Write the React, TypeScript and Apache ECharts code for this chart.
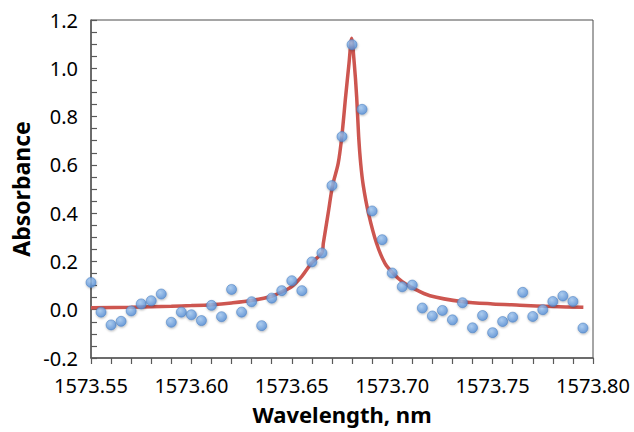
import React, { useEffect, useRef } from "react";
import * as echarts from "echarts";

// Measured points (wavelength, nm / absorbance)
const pointX = [
  1573.55, 1573.555, 1573.56, 1573.565, 1573.57, 1573.575, 1573.58, 1573.585, 1573.59, 1573.595,
  1573.6, 1573.605, 1573.61, 1573.615, 1573.62, 1573.625, 1573.63, 1573.635, 1573.64, 1573.645,
  1573.65, 1573.655, 1573.66, 1573.665, 1573.67, 1573.675, 1573.68, 1573.685, 1573.69, 1573.695,
  1573.7, 1573.705, 1573.71, 1573.715, 1573.72, 1573.725, 1573.73, 1573.735, 1573.74, 1573.745,
  1573.75, 1573.755, 1573.76, 1573.765, 1573.77, 1573.775, 1573.78, 1573.785, 1573.79, 1573.795,
];
const pointY = [
  0.113, -0.01, -0.063, -0.048, -0.005, 0.024, 0.037, 0.065, -0.052, -0.01,
  -0.021, -0.045, 0.018, -0.029, 0.084, -0.01, 0.033, -0.066, 0.048, 0.079,
  0.12, 0.079, 0.198, 0.235, 0.514, 0.717, 1.098, 0.83, 0.409, 0.29,
  0.152, 0.095, 0.102, 0.007, -0.026, -0.003, -0.042, 0.029, -0.075, -0.024,
  -0.095, -0.049, -0.031, 0.072, -0.028, 0.0, 0.034, 0.057, 0.034, -0.076,
];

// Fitted curve
const fitX = [
  1573.55, 1573.57, 1573.59, 1573.6, 1573.61, 1573.62, 1573.63, 1573.64, 1573.645, 1573.65,
  1573.655, 1573.66, 1573.665, 1573.6657, 1573.6681, 1573.6703, 1573.6731, 1573.6749, 1573.6768,
  1573.6785, 1573.6798, 1573.6811, 1573.6823, 1573.6833, 1573.6843, 1573.6856, 1573.6882,
  1573.6922, 1573.6964, 1573.7004, 1573.705, 1573.71, 1573.7188, 1573.7354, 1573.75, 1573.7636,
  1573.78, 1573.7952,
];
const fitY = [
  0.008, 0.01, 0.014, 0.017, 0.021, 0.028, 0.038, 0.056, 0.074, 0.096,
  0.138, 0.195, 0.236, 0.275, 0.399, 0.514, 0.606, 0.717, 0.882,
  1.021, 1.124, 1.021, 0.882, 0.717, 0.606, 0.514, 0.399,
  0.275, 0.192, 0.151, 0.116, 0.091, 0.058, 0.033, 0.024, 0.019,
  0.013, 0.01,
];

const xTicks = { min: 1573.55, max: 1573.8, step: 0.05 };
const yTicks = { min: -0.2, max: 1.2, step: 0.2 };

export default function App() {
  const ref = useRef<HTMLDivElement>(null);
  useEffect(() => {
    if (!ref.current) return;
    const chart = echarts.init(ref.current, undefined, { renderer: "svg" });
    const font = "'Noto Sans', 'Open Sans', sans-serif";
    const axisLineColor = "#595959";
    chart.setOption({
      animation: false,
      backgroundColor: "#ffffff",
      grid: {
        left: 91,
        top: 20,
        right: 41,
        bottom: 74,
        show: true,
        borderColor: "#4d4d4d",
        borderWidth: 1,
        backgroundColor: "transparent",
      },
      xAxis: {
        type: "value",
        min: xTicks.min,
        max: xTicks.max,
        interval: xTicks.step,
        name: "Wavelength, nm",
        nameLocation: "middle",
        nameGap: 44,
        nameTextStyle: { fontFamily: font, fontSize: 22, fontWeight: "bold", color: "#000", lineHeight: 24 },
        axisLine: { show: true, onZero: false, lineStyle: { color: axisLineColor, width: 1.5 } },
        axisTick: { show: true, inside: false, length: 6, lineStyle: { color: axisLineColor, width: 1.2 } },
        minorTick: { show: true, splitNumber: 5, length: 6, lineStyle: { color: axisLineColor, width: 1.2 } },
        splitLine: { show: false },
        axisLabel: {
          margin: 17,
          fontFamily: font,
          fontSize: 20,
          lineHeight: 20,
          color: "#000",
          formatter: (v: number) => v.toFixed(2),
        },
      },
      yAxis: {
        type: "value",
        min: yTicks.min,
        max: yTicks.max,
        interval: yTicks.step,
        name: "Absorbance",
        nameLocation: "middle",
        nameGap: 56,
        nameRotate: 90,
        nameTextStyle: { fontFamily: font, fontSize: 23, fontWeight: "bold", color: "#000" },
        axisLine: { show: true, onZero: false, lineStyle: { color: axisLineColor, width: 1.5 } },
        axisTick: { show: true, inside: true, length: 6, lineStyle: { color: axisLineColor, width: 1.2 } },
        minorTick: { show: true, splitNumber: 4, length: 6, lineStyle: { color: axisLineColor, width: 1.2 } },
        splitLine: { show: false },
        axisLabel: {
          margin: 13,
          fontFamily: font,
          fontSize: 20,
          color: "#000",
          formatter: (v: number) => (Math.abs(v) < 1e-9 ? "0.0" : v.toFixed(1)),
        },
      },
      series: [
        {
          type: "line",
          data: fitX.map((x, i) => [x, fitY[i]]),
          showSymbol: false,
          smooth: 0.3,
          lineStyle: { color: "#cd5650", width: 3.5 },
          z: 2,
        },
        {
          type: "scatter",
          data: pointX.map((x, i) => [x, pointY[i]]),
          symbol: "circle",
          symbolSize: 10,
          itemStyle: {
            color: new echarts.graphic.RadialGradient(0.4, 0.35, 0.75, [
              { offset: 0, color: "#a3c9f3" },
              { offset: 1, color: "#4a86d3" },
            ]),
            borderColor: "#4a7fc1",
            borderWidth: 0.7,
            shadowBlur: 2,
            shadowColor: "rgba(0,0,0,0.35)",
            shadowOffsetX: 0.5,
            shadowOffsetY: 1,
          },
          z: 3,
        },
      ],
    });
    return () => chart.dispose();
  }, []);
  return (
    <div
      ref={ref}
      style={{ position: "fixed", left: 0, top: 0, width: 634, height: 432 }}
    />
  );
}
